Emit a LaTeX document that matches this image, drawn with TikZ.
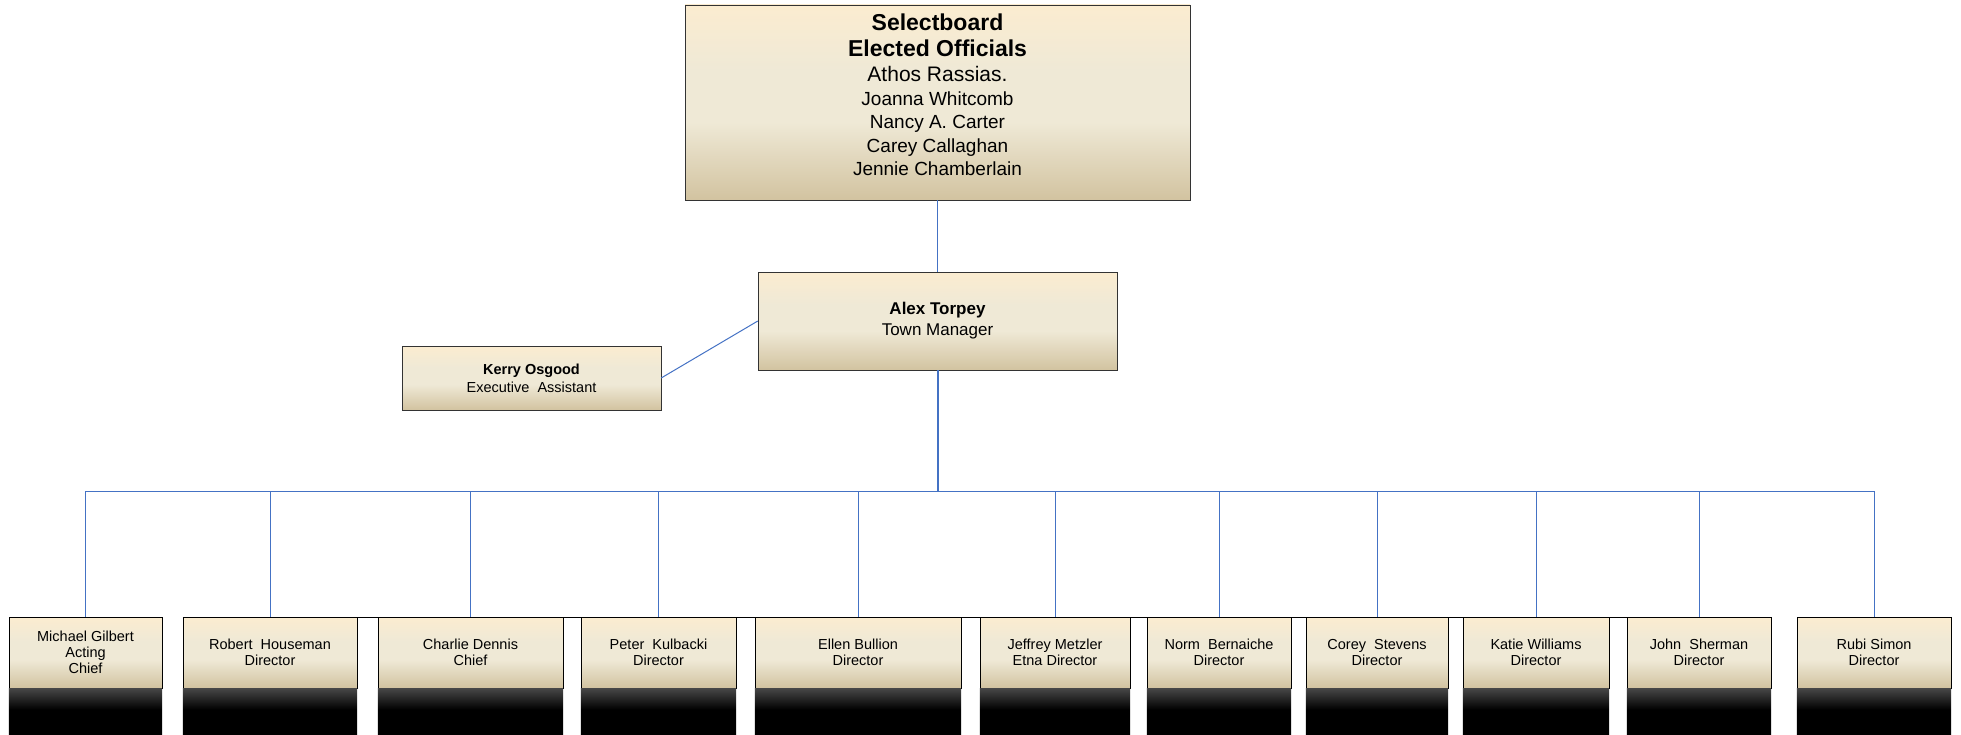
\documentclass[tikz,border=0pt]{standalone}
\usepackage{fontspec}
\setmainfont{Liberation Sans}

\definecolor{lineBlue}{RGB}{68,114,196}
\definecolor{creamTop}{RGB}{251,236,208}
\definecolor{creamMid}{RGB}{239,233,214}
\definecolor{creamLow}{RGB}{210,195,160}
\pgfdeclareverticalshading{creamShading}{100bp}{
	color(0bp)=(creamLow);
	color(25bp)=(creamLow);
	color(45bp)=(creamMid);
	color(58bp)=(creamMid);
	color(75bp)=(creamTop);
	color(100bp)=(creamTop)
}
\pgfdeclareverticalshading{darkShading}{100bp}{
	color(0bp)=(black);
	color(52bp)=(black);
	color(75bp)=(black!72);
	color(100bp)=(black!72)
}

\begin{document}
\begin{tikzpicture}[x=1pt,y=-1pt,
	box/.style={draw=black!80,shade,shading=creamShading,align=center,inner sep=0pt},
	staff/.style={box,draw=black,minimum height=71,font=\fontsize{14.5}{16}\selectfont},
	link/.style={lineBlue,line width=1pt}]
	\useasboundingbox (0,0) rectangle (1961,735);
	
	% selectboard and town manager
	\node[box,minimum width=505,minimum height=195,font=\fontsize{19}{23.5}\selectfont]
	(board) at (937.5,102.5)
	{{\fontsize{23}{26}\selectfont\bfseries Selectboard}\\[2pt]
	 {\fontsize{23}{26}\selectfont\bfseries Elected Officials}\\[2pt]
	 {\fontsize{21}{26}\selectfont Athos Rassias.}\\
	 Joanna Whitcomb\\
	 Nancy A. Carter\\
	 Carey Callaghan\\
	 Jennie Chamberlain\\[-8pt]\mbox{}};
	\node[box,minimum width=359,minimum height=98,font=\fontsize{17}{21}\selectfont]
	(mgr) at (937.5,321) {\textbf{Alex Torpey}\\Town Manager};
	\node[box,minimum width=259,minimum height=64,font=\fontsize{14.5}{18}\selectfont]
	(ea) at (531.5,378) {\textbf{Kerry Osgood}\\Executive\ \ Assistant};
	
	\draw[link] (board.south) -- (mgr.north);
	\draw[link] (ea.east) -- (mgr.west);
	
	% department heads
	\foreach \cx/\w/\who [count=\i] in {
		85.5/153/{Michael Gilbert\\Acting\\Chief},
		270/174/{Robert\ \ Houseman\\Director},
		470.5/185/{Charlie Dennis\\Chief},
		658.5/155/{Peter\ \ Kulbacki\\Director},
		858/206/{Ellen Bullion\\Director},
		1055/150/{Jeffrey Metzler\\Etna Director},
		1219/144/{Norm\ \ Bernaiche\\Director},
		1377/142/{Corey\ \ Stevens\\Director},
		1536/146/{Katie Williams\\Director},
		1699/144/{John\ \ Sherman\\Director},
		1874/154/{Rubi Simon\\Director}}{
	\node[staff,minimum width=\w] (b\i) at (\cx,652.5) {\who};
	}
	\coordinate (bottom) at (0,735);
	\foreach \i in {1,...,11}
	\shade[shading=darkShading] (b\i.south west) rectangle (b\i.east |- bottom);
	\draw[black] (b2.north west) -- (b10.north east);
	
	%connectors to the departments
	\coordinate (hub) at (937.5,491);
	\draw[link,line width=2pt] (mgr.south) -- (hub);
	\foreach \i in {1,...,11}
	\draw[link] (hub) -| (b\i.north);
\end{tikzpicture}
\end{document}
